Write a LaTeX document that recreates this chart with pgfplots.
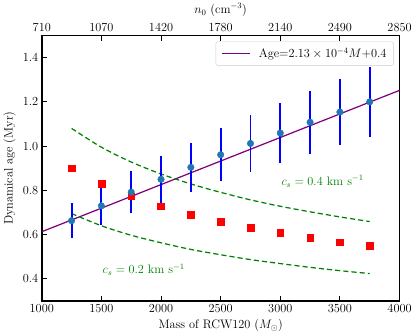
\documentclass[border=0pt]{standalone}
\usepackage{pgfplots}
\pgfplotsset{compat=1.18}
\definecolor{mplblue}{HTML}{1F77B4}
\definecolor{mplgreen}{HTML}{008000}
\definecolor{mplpurple}{HTML}{800080}
\begin{document}
\begin{tikzpicture}
\pgfplotsset{
  common/.style={
    scale only axis, width=349pt, height=259pt,
    xmin=1000, xmax=4000,
    font=\fontsize{12}{14}\selectfont,
    axis line style={line width=1.6pt},
    major tick length=5pt,
    every tick/.style={black, line width=0.8pt},
    xticklabel style={/pgf/number format/set thousands separator={}},
  },
}
% top axis: density
\begin{axis}[
  common,
  axis x line*=top, axis y line=none,
  ymin=0.3, ymax=1.5,
  xtick={1000,1500,...,4000},
  xticklabels={710,1070,1420,1780,2140,2490,2850},
  xlabel={$n_0$ (cm$^{-3}$)},
]
\end{axis}
\begin{axis}[
  common,
  ymin=0.3, ymax=1.5,
  xtick={1000,1500,...,4000},
  ytick={0.4,0.6,...,1.41},
  yticklabel style={/pgf/number format/.cd, fixed, fixed zerofill, precision=1},
  xtick pos=bottom, ytick pos=left,
  xlabel={Mass of RCW120 ($M_\odot$)},
  ylabel={Dynamical age (Myr)},
  legend style={at={(rel axis cs:0.984,0.977)}, anchor=north east,
    draw=black!20, rounded corners=2pt, font=\fontsize{12}{14}\selectfont,
    inner xsep=5pt, inner ysep=4pt},
  legend image post style={xscale=1.6, draw=mplpurple, line width=1.6pt},
  legend cell align=left,
]
% fit
\addplot[color=mplpurple, line width=1.2pt] coordinates {(1000,0.613) (4000,1.252)};
\addlegendentry{\hspace{6pt}Age=$2.13\times10^{-4}M$+0.4}
% c_s = 0.4 km/s
\addplot[mplgreen, line width=1.2pt, smooth, dash pattern=on 5pt off 3pt, forget plot] coordinates {
  (1250,1.080) (1500,0.995) (1750,0.928) (2000,0.874) (2250,0.829) (2500,0.791)
  (2750,0.757) (3000,0.728) (3250,0.703) (3500,0.680) (3750,0.659)};
% c_s = 0.2 km/s
\addplot[mplgreen, line width=1.2pt, smooth, dash pattern=on 5pt off 3pt, forget plot] coordinates {
  (1250,0.695) (1500,0.640) (1750,0.597) (2000,0.563) (2250,0.533) (2500,0.509)
  (2750,0.487) (3000,0.469) (3250,0.452) (3500,0.437) (3750,0.424)};
% red squares
\addplot[only marks, mark=square*, mark size=3.3pt, color=red, forget plot] coordinates {
  (1250,0.900) (1500,0.829) (1750,0.774) (2000,0.728) (2250,0.691) (2500,0.659)
  (2750,0.631) (3000,0.607) (3250,0.585) (3500,0.566) (3750,0.549)};
% error bars
\addplot[draw=none, mark=none, forget plot,
  error bars/.cd, y dir=both, y explicit, error mark=none,
  error bar style={blue, line width=1.8pt}] coordinates {
  (1250,0.663) +- (0,0.080)
  (1500,0.730) +- (0,0.088)
  (1750,0.792) +- (0,0.095)
  (2000,0.850) +- (0,0.105)
  (2250,0.904) +- (0,0.112)
  (2500,0.961) +- (0,0.120)
  (2750,1.012) +- (0,0.128)
  (3000,1.059) +- (0,0.135)
  (3250,1.108) +- (0,0.142)
  (3500,1.154) +- (0,0.150)
  (3750,1.200) +- (0,0.157)};
% blue points
\addplot[only marks, mark=*, mark size=3.2pt, color=mplblue, forget plot] coordinates {
  (1250,0.663) (1500,0.730) (1750,0.792) (2000,0.850) (2250,0.904) (2500,0.961)
  (2750,1.012) (3000,1.059) (3250,1.108) (3500,1.154) (3750,1.200)};
\node[anchor=west, text=mplgreen, font=\fontsize{12}{14}\selectfont] at (axis cs:2980,0.84) {$c_s = 0.4$ km s$^{-1}$};
\node[anchor=west, text=mplgreen, font=\fontsize{12}{14}\selectfont] at (axis cs:1480,0.44) {$c_s = 0.2$ km s$^{-1}$};
\end{axis}
\end{tikzpicture}
\end{document}
